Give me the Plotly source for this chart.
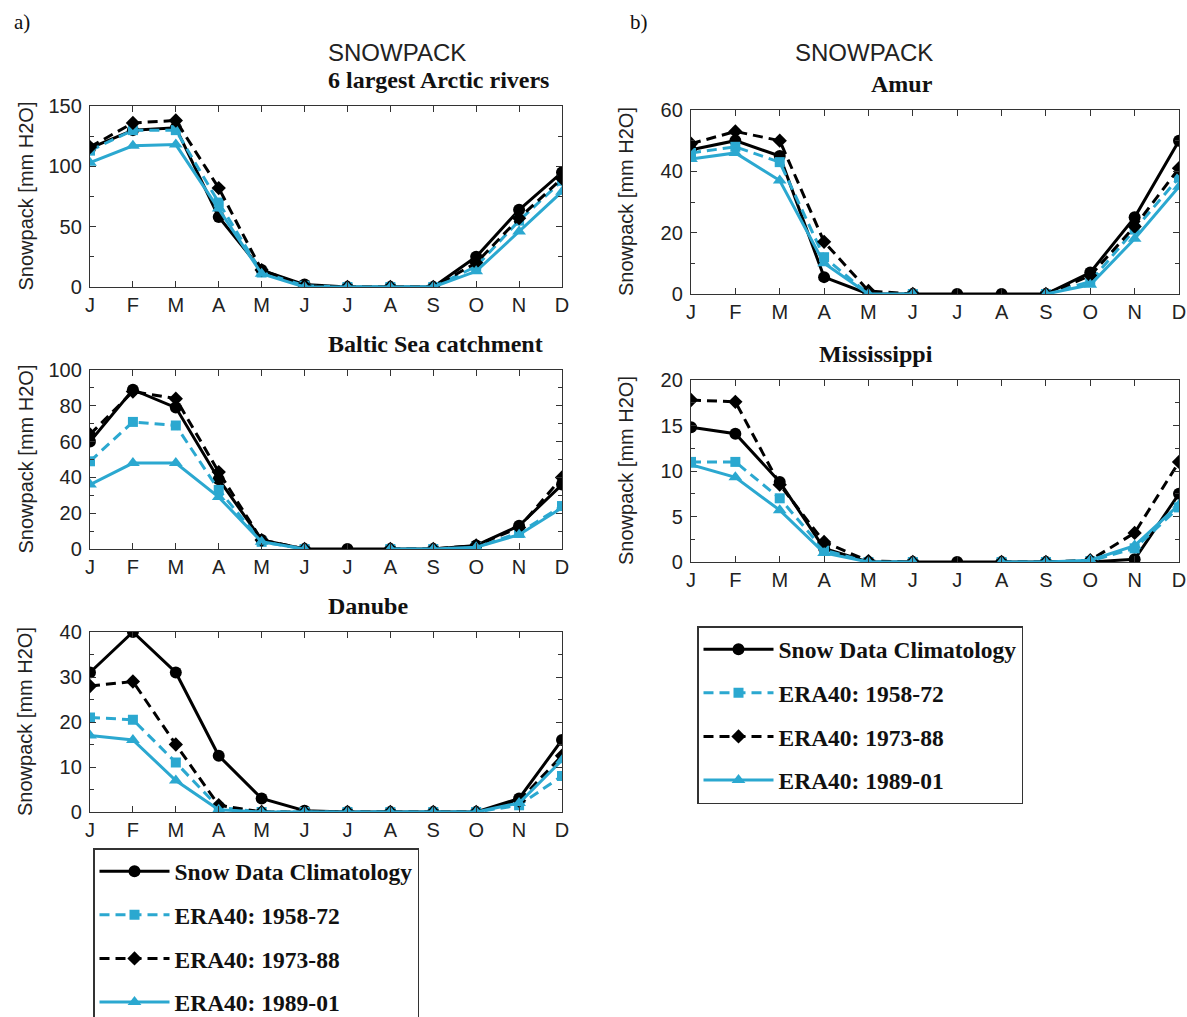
import plotly.graph_objects as go

W, H = 1187, 1017

months = ["J", "F", "M", "A", "M", "J", "J", "A", "S", "O", "N", "D"]
series_names = ["Snow Data Climatology", "ERA40: 1958-72", "ERA40: 1973-88", "ERA40: 1989-01"]

# 6 largest Arctic rivers
arctic_clim = [115, 130, 132, 58, 14, 2, 0, 0, 0, 25, 64, 95]
arctic_e5872 = [113, 130, 130, 70, 12, 1, 0, 0, 0, 17, 55, 88]
arctic_e7388 = [116, 136, 138, 82, 14, 1, 0, 0, 0, 20, 57, 90]
arctic_e8901 = [103, 117, 118, 65, 11, 0, 0, 0, 0, 13, 46, 79]

# Baltic Sea catchment
baltic_clim = [60, 89, 79, 39, 5, 0, 0, 0, 0, 2, 13, 36]
baltic_e5872 = [49, 71, 69, 33, 4, 0, None, 0, 0, 1, 9, 24]
baltic_e7388 = [64, 88, 84, 43, 5, 0, None, 0, 0, 2, 12, 40]
baltic_e8901 = [36, 48, 48, 29, 4, 0, None, 0, 0, 1, 8, 23]

# Danube
danube_clim = [31, 40, 31, 12.5, 3, 0.3, 0, 0, 0, 0, 3, 16]
danube_e5872 = [21, 20.5, 11, 1, 0, 0, 0, 0, 0, 0, 1.5, 8]
danube_e7388 = [28, 29, 15, 1.5, 0, 0, 0, 0, 0, 0, 2.5, 12.5]
danube_e8901 = [17, 16, 7, 0.5, 0, 0, 0, 0, 0, 0, 2, 11.5]

# Amur
amur_clim = [47, 50, 45, 5.5, 0, 0, 0, 0, 0, 7, 25, 50]
amur_e5872 = [46, 48, 43, 12, 0, 0, None, None, 0, 4, 21, 38]
amur_e7388 = [49, 53, 50, 17, 1, 0, None, None, 0, 6, 22, 41]
amur_e8901 = [44, 46, 37, 10, 0, 0, None, None, 0, 3, 18, 35]

# Mississippi
miss_clim = [14.8, 14.1, 8.8, 1.5, 0, 0, 0, 0, 0, 0, 0.3, 7.5]
miss_e5872 = [11, 11, 7, 1.3, 0, 0, None, 0, 0, 0.1, 1.5, 6]
miss_e7388 = [17.8, 17.6, 8.5, 2.2, 0.1, 0, None, 0, 0, 0.2, 3.2, 11]
miss_e8901 = [10.7, 9.3, 5.7, 1.0, 0, 0, None, 0, 0, 0.2, 1.8, 6.3]

CYAN = "#2BA8D0"
BLACK = "#000000"
styles = [
    dict(color=BLACK, dash="solid", symbol="circle", msize=12),
    dict(color=CYAN, dash="10px,6px", symbol="square", msize=10),
    dict(color=BLACK, dash="10px,6px", symbol="diamond", msize=11),
    dict(color=CYAN, dash="solid", symbol="triangle-up", msize=12),
]


def px_dom(a, b, total, flip=False):
    if flip:
        return [1 - b / total, 1 - a / total]
    return [a / total, b / total]


# panel geometry in pixels: (x0, x1, ytop, ybot)
panels = [
    dict(name="6 largest Arctic rivers", data=[arctic_clim, arctic_e5872, arctic_e7388, arctic_e8901],
         px=(90, 562, 106, 287), yr=150, dt=50, mdt=25, legend="legend"),
    dict(name="Baltic Sea catchment", data=[baltic_clim, baltic_e5872, baltic_e7388, baltic_e8901],
         px=(90, 562, 370, 549), yr=100, dt=20, mdt=10, legend=None),
    dict(name="Danube", data=[danube_clim, danube_e5872, danube_e7388, danube_e8901],
         px=(90, 562, 632, 812), yr=40, dt=10, mdt=5, legend=None),
    dict(name="Amur", data=[amur_clim, amur_e5872, amur_e7388, amur_e8901],
         px=(691, 1179, 110, 294), yr=60, dt=20, mdt=10, legend="legend2"),
    dict(name="Mississippi", data=[miss_clim, miss_e5872, miss_e7388, miss_e8901],
         px=(691, 1179, 380, 562), yr=20, dt=5, mdt=2.5, legend=None),
]

fig = go.Figure()
xidx = list(range(len(months)))
annotations = []
tick_font = dict(family="Liberation Sans, Arial, sans-serif", size=20, color="#222")

for i, p in enumerate(panels):
    k = "" if i == 0 else str(i + 1)
    x0, x1, yt, yb = p["px"]
    for j, (vals, st) in enumerate(zip(p["data"], styles)):
        tr = dict(
            x=xidx, y=vals, mode="lines+markers", name=series_names[j],
            line=dict(color=st["color"], width=3, dash=st["dash"]),
            marker=dict(symbol=st["symbol"], size=st["msize"], color=st["color"]),
            xaxis="x" + k, yaxis="y" + k, legendgroup=f"g{j}_{i}",
            showlegend=p["legend"] is not None,
        )
        if p["legend"]:
            tr["legend"] = p["legend"]
        fig.add_trace(go.Scatter(**tr))
    axcommon = dict(showline=True, linecolor="#333", linewidth=1.3, mirror="allticks",
                    ticks="inside", ticklen=6, tickcolor="#333", showgrid=False, zeroline=False,
                    tickfont=tick_font)
    fig.layout["xaxis" + k] = dict(
        domain=px_dom(x0, x1, W), anchor="y" + k, range=[0, 11],
        tickmode="array", tickvals=xidx, ticktext=months, **axcommon)
    fig.layout["yaxis" + k] = dict(
        domain=px_dom(yt, yb, H, flip=True), anchor="x" + k, range=[0, p["yr"]],
        tick0=0, dtick=p["dt"], ticklabelstandoff=3,
        minor=dict(ticks="inside", dtick=p["mdt"], ticklen=4, tickcolor="#333"), **axcommon)
    cx = (x0 + x1) / 2 / W
    annotations.append(dict(text=p["name"], x=cx, y=1 - (yt - 26) / H, xref="paper", yref="paper",
                            showarrow=False, yanchor="middle",
                            font=dict(family="Liberation Serif, Times New Roman, serif", size=24,
                                      color="#111", weight="bold")))
    annotations.append(dict(text="Snowpack [mm H2O]", x=(x0 - 65) / W, y=1 - (yt + yb) / 2 / H,
                            xref="paper", yref="paper", showarrow=False, textangle=-90,
                            xanchor="center", yanchor="middle",
                            font=dict(family="Liberation Sans, Arial, sans-serif", size=20, color="#222")))

for cx in [(90 + 562) / 2, (691 + 1179) / 2]:
    annotations.append(dict(text="SNOWPACK", x=cx / W, y=1 - 52 / H, xref="paper", yref="paper",
                            showarrow=False, yanchor="middle",
                            font=dict(family="Liberation Sans, Arial, sans-serif", size=24, color="#222")))
for lab, lx in [("a)", 12), ("b)", 628)]:
    annotations.append(dict(text=lab, x=lx / W, y=1 - 22 / H, xref="paper", yref="paper",
                            showarrow=False, xanchor="left", yanchor="middle",
                            font=dict(family="Liberation Serif, Times New Roman, serif", size=21, color="#111")))

leg_font = dict(family="Liberation Serif, Times New Roman, serif", size=23.5, color="#111", weight="bold")
fig.update_layout(
    width=W, height=H, margin=dict(l=0, r=0, t=0, b=0, autoexpand=False),
    paper_bgcolor="white", plot_bgcolor="white",
    annotations=annotations,
    legend=dict(x=93 / W, y=1 - 848 / H, xanchor="left", yanchor="top", bgcolor="white",
                bordercolor="#333", borderwidth=1.5, font=leg_font, tracegroupgap=10, itemwidth=70),
    legend2=dict(x=697 / W, y=1 - 626 / H, xanchor="left", yanchor="top", bgcolor="white",
                 bordercolor="#333", borderwidth=1.5, font=leg_font, tracegroupgap=10, itemwidth=70),
)

fig.write_html("out.html", config={"displayModeBar": False},
               post_script="document.body.style.margin='0px';")
